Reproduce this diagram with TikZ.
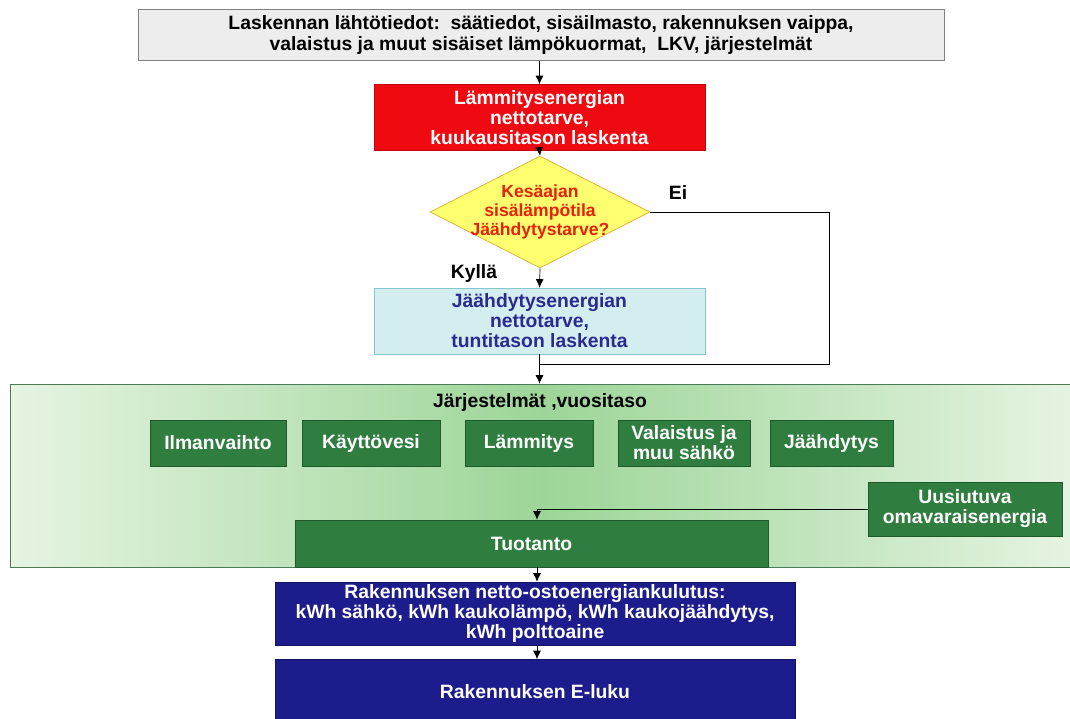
\documentclass[tikz,border=0pt]{standalone}
\usepackage{fontspec}
\setmainfont{Liberation Sans}
\usetikzlibrary{shapes.geometric,arrows.meta}
\definecolor{topgrey}{HTML}{EDEDED}
\definecolor{heatred}{HTML}{EE0A10}
\definecolor{diayellow}{HTML}{FFFF70}
\definecolor{diaedge}{HTML}{E2B030}
\definecolor{diatext}{HTML}{E8200C}
\definecolor{coolcyan}{HTML}{D4EEF0}
\definecolor{cooledge}{HTML}{80C8CC}
\definecolor{coolblue}{HTML}{2A2A90}
\definecolor{sysgreen}{HTML}{2F7D3F}
\definecolor{sysedge}{HTML}{1E5A2A}
\definecolor{paneledge}{HTML}{E6F4E2}
\definecolor{panelmid}{HTML}{9DD598}
\definecolor{navy}{HTML}{1C1C8C}
\tikzset{
  arr/.style={-{Latex[length=1.7mm,width=1.6mm]},thin},
  boxfont/.style={font=\bfseries\fontsize{11}{11.4}\selectfont},
  sysbox/.style={draw=sysedge,fill=sysgreen,text=white,boxfont,
    align=center,minimum height=0.92cm,inner sep=1pt},
  resbox/.style={draw=navy!70!black,fill=navy,text=white,boxfont,
    align=center,minimum width=10.4cm,inner sep=1pt}
}
\begin{document}
\begin{tikzpicture}[x=0.02cm,y=-0.02cm]
 \useasboundingbox (0,0) rectangle (1070,718);
 \fill[white] (0,0) rectangle (1070,718);
 % input data and monthly heating
 \node[draw=gray,fill=topgrey,minimum width=16.12cm,minimum height=0.92cm,align=center,
   font=\bfseries\fontsize{11}{11.8}\selectfont] (input) at (541,35)
   {Laskennan lähtötiedot:\ \ säätiedot, sisäilmasto, rakennuksen vaippa,\\
    valaistus ja muut sisäiset lämpökuormat,\ \ LKV, järjestelmät};
 \node[draw=heatred!80!black,fill=heatred,text=white,minimum width=6.62cm,minimum height=1.22cm,align=center,
   boxfont] (heat) at (539.5,117.5)
   {Lämmitysenergian\\ nettotarve,\\ kuukausitason laskenta};
 \node[diamond,draw=diaedge,fill=diayellow,minimum width=4.4cm,minimum height=2.24cm,
   inner sep=0pt] (summer) at (540,212) {};
 \node[text=diatext,align=center,font=\bfseries\fontsize{10}{10.6}\selectfont] (summertext) at (summer)
   {Kesäajan\\ sisälämpötila\\ Jäähdytystarve?};
 \node[boxfont] (ei) at (678,192) {Ei};
 \node[boxfont] (kylla) at (474,273) {Kyllä};
 \node[draw=cooledge,fill=coolcyan,text=coolblue,minimum width=6.62cm,minimum height=1.24cm,align=center,
   boxfont] (cool) at (539.5,321)
   {Jäähdytysenergian\\ nettotarve,\\ tuntitason laskenta};
 \draw[arr] (input.south -| heat.north) -- (heat.north);
 \draw[arr] (heat.south) -- (summer.north);
 \draw[arr] (summer.south) -- (cool.north);
 % systems panel
 \node[draw=sysedge!80,left color=paneledge,right color=paneledge,middle color=panelmid,
   minimum width=21.3cm,minimum height=3.66cm,inner sep=0pt] (panel) at (542.5,475.5) {};
 \coordinate (eiturn) at (829,364);
 \coordinate (join) at (540,364);
 \draw (summer.east) -| (eiturn) -- (join);
 \draw[arr] (cool.south) -- (cool.south |- panel.north);
 \node[boxfont] (systitle) at (540,402) {Järjestelmät ,vuositaso};
 \node[sysbox,minimum width=2.72cm] (vent) at (218,443) {Ilmanvaihto};
 \node[sysbox,minimum width=2.76cm] (water) at (371,443) {Käyttövesi};
 \node[sysbox,minimum width=2.56cm] (heating) at (529,443) {Lämmitys};
 \node[sysbox,minimum width=2.64cm] (light) at (684,443) {Valaistus ja\\ muu sähkö};
 \node[sysbox,minimum width=2.46cm] (cooling) at (831.5,443) {Jäähdytys};
 \node[sysbox,minimum width=3.88cm,minimum height=1.08cm] (renew) at (965,509) {Uusiutuva\\ omavaraisenergia};
 \node[sysbox,minimum width=9.46cm,minimum height=0.94cm] (prod) at (531.5,543.5) {Tuotanto};
 \coordinate (renewjoin) at (537,509);
 \draw[arr] (renew.west) -- (renewjoin) -- (renewjoin |- prod.north);
 % purchased energy and E-value
 \node[resbox,minimum height=1.26cm] (purchase) at (535,613.5)
   {Rakennuksen netto-ostoenergiankulutus:\\ kWh sähkö, kWh kaukolämpö, kWh kaukojäähdytys,\\ kWh polttoaine};
 \node[resbox,minimum height=1.3cm] (evalue) at (535,692) {Rakennuksen E-luku};
 \draw[arr] (renewjoin |- prod.south) -- (renewjoin |- purchase.north);
 \draw[arr] (renewjoin |- purchase.south) -- (renewjoin |- evalue.north);
\end{tikzpicture}
\end{document}
